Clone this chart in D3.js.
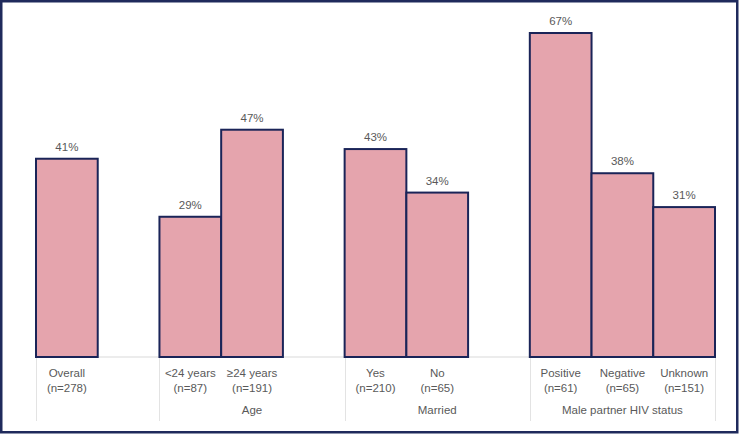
<!DOCTYPE html>
<html><head><meta charset="utf-8">
<script src="https://cdn.jsdelivr.net/npm/d3@7"></script>
<style>body{margin:0;background:#fff}svg{display:block}</style>
</head><body><svg id="c" width="740" height="435"></svg>
<script>
const slots = ["Overall", "", "<24 years", "≥24 years", "", "Yes", "No", "", "Positive", "Negative", "Unknown"];
const sampleSizes = ["(n=278)", "", "(n=87)", "(n=191)", "", "(n=210)", "(n=65)", "", "(n=61)", "(n=65)", "(n=151)"];
const values = [41, null, 29, 47, null, 43, 34, null, 67, 38, 31];
const groups = ["", "Age", "Married", "Male partner HIV status"];
const groupStarts = [0, 2, 5, 8];
const groupEnds = [2, 5, 8, 11];

const svg = d3.select("#c");
const font = "Liberation Sans, Arial, sans-serif";
const fs = 11.5;
const textCol = "#595959";
const x = d3.scaleBand().domain(d3.range(slots.length)).range([36, 715]).padding(0);
const y = d3.scaleLinear().domain([0, 70]).range([357, 18.5]);

svg.append("rect").attr("x", 1.25).attr("y", 1.25).attr("width", 736).attr("height", 431)
  .attr("fill", "#fff").attr("stroke", "#1F2A5C").attr("stroke-width", 2.5);

// baseline
svg.append("line").attr("x1", x.range()[0]).attr("x2", x.range()[1]).attr("y1", y(0)).attr("y2", y(0))
  .attr("stroke", "#d9d9d9").attr("stroke-width", 1);

// group separators
const seps = groupStarts.map(i => x(i)).concat([x.range()[1]]);
svg.selectAll("line.sep").data(seps).enter().append("line")
  .attr("x1", d => Math.round(d) + 0.5).attr("x2", d => Math.round(d) + 0.5)
  .attr("y1", y(0)).attr("y2", 421).attr("stroke", "#e3e3e3").attr("stroke-width", 1);

const data = values.map((v, i) => ({i, v})).filter(d => d.v !== null);
svg.selectAll("rect.bar").data(data).enter().append("rect")
  .attr("x", d => x(d.i)).attr("width", x.bandwidth())
  .attr("y", d => y(d.v)).attr("height", d => y(0) - y(d.v))
  .attr("fill", "#E5A4AD").attr("stroke", "#1A2458").attr("stroke-width", 2);

svg.selectAll("text.val").data(data).enter().append("text")
  .attr("x", d => x(d.i) + x.bandwidth() / 2).attr("y", d => y(d.v) - 8)
  .attr("text-anchor", "middle").attr("font-family", font).attr("font-size", fs)
  .attr("fill", textCol).text(d => d.v + "%");

slots.forEach((s, i) => {
  if (!s) return;
  const cx = x(i) + x.bandwidth() / 2;
  svg.append("text").attr("x", cx).attr("y", 377).attr("text-anchor", "middle")
    .attr("font-family", font).attr("font-size", fs).attr("fill", textCol).text(s);
  svg.append("text").attr("x", cx).attr("y", 392).attr("text-anchor", "middle")
    .attr("font-family", font).attr("font-size", fs).attr("fill", textCol).text(sampleSizes[i]);
});

groups.forEach((g, k) => {
  if (!g) return;
  const cx = (x(groupStarts[k]) + (groupEnds[k] >= slots.length ? x.range()[1] : x(groupEnds[k]))) / 2;
  svg.append("text").attr("x", cx).attr("y", 414).attr("text-anchor", "middle")
    .attr("font-family", font).attr("font-size", fs).attr("fill", textCol).text(g);
});
</script></body></html>
